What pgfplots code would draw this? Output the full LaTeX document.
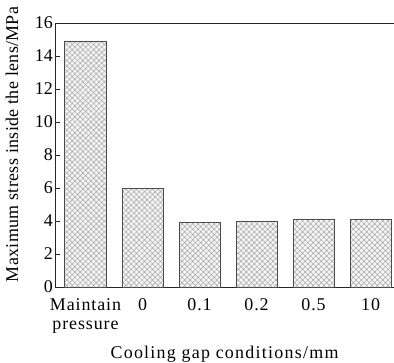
\documentclass[border=0pt]{standalone}
\usepackage{pgfplots}
\pgfplotsset{compat=1.18}
\usepackage{fontspec}
\setmainfont{Liberation Serif}
\usetikzlibrary{patterns.meta}
\begin{document}
\begin{tikzpicture}
\begin{axis}[
  at={(0,0)}, anchor=south west,
  scale only axis, width=339bp, height=264bp,
  xmin=-0.535, xmax=5.41, ymin=0, ymax=16,
  axis x line*=bottom, axis y line*=left,
  axis line style={line width=0.9pt, black!85, -},
  ytick={0,2,...,16},
  tick align=inside, major tick length=5bp,
  tick style={line width=0.8pt, black!85},
  xtick={0,1,2,3,4,5},
  xticklabels={{Maintain\\pressure},0,0.1,0.2,0.5,10},
  xtick style={draw=none},
  xticklabel style={align=center, font=\fontsize{18}{20}\selectfont\addfontfeature{LetterSpace=5}, inner sep=1pt, yshift=-10bp},
  yticklabel style={font=\fontsize{18}{18}\selectfont, inner sep=1pt, xshift=-1bp},
  /pgf/number format/assume math mode=true,
  xlabel={Cooling gap conditions/mm},
  ylabel={Maximum stress inside the lens/MPa},
  xlabel style={font=\fontsize{18}{18}\selectfont\addfontfeature{LetterSpace=7}, at={(axis description cs:0.5,-0.269)}, anchor=base},
  ylabel style={font=\fontsize{18}{18}\selectfont\addfontfeature{LetterSpace=2}, at={(axis description cs:-0.127,0.54)}, anchor=center, rotate=0},
  clip=false,
]
\addplot[ybar, bar width=0.72, draw=black!70, line width=1pt,
  fill=gray!8,
  postaction={pattern={Hatch[angle=45,distance=3.8pt,line width=0.5pt]}, pattern color=gray!70}]
  coordinates {(0,14.85) (1,5.95) (2,3.88) (3,4.0) (4,4.07) (5,4.1)};
\draw[line width=0.9pt, black!85] (rel axis cs:0,1) -- (rel axis cs:1,1);
\end{axis}
\pgfresetboundingbox
\path[use as bounding box] (-55bp,-76bp) rectangle (339bp,287bp);
\end{tikzpicture}
\end{document}
